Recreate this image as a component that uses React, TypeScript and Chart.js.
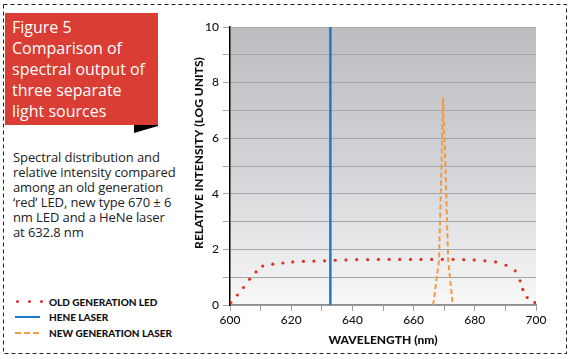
import React, { useEffect, useRef } from "react";
import { Chart, registerables } from "chart.js";

Chart.register(...registerables);

// ---- data ----
const oldLedWavelength = [600.3, 602.4, 604.4, 606.4, 608.5, 610.7, 614, 617.3, 620.5, 624, 627.4, 630.9, 634.4, 637.9, 641.4, 645, 648.5, 652, 655.5, 659, 662.4, 665.9, 669.4, 672.9, 676.4, 679.8, 683.3, 686.8, 690.2, 693.2, 694.8, 695.7, 697.1, 699.6];
const oldLedIntensity = [0.09, 0.36, 0.63, 0.93, 1.19, 1.4, 1.47, 1.51, 1.55, 1.57, 1.58, 1.59, 1.61, 1.62, 1.63, 1.63, 1.64, 1.64, 1.64, 1.64, 1.64, 1.64, 1.64, 1.64, 1.63, 1.62, 1.59, 1.55, 1.43, 1.23, 0.87, 0.56, 0.27, 0.09];
const heneWavelength = [632.8, 632.8];
const heneIntensity = [0, 10];
const newLaserWavelength = [666.4, 668.3, 669.1, 669.6, 670.4, 671.3, 672.8];
const newLaserIntensity = [0, 1.6, 5, 7.47, 5, 1.6, 0];
const xTickValues = [600, 620, 640, 660, 680, 700];
const yTickValues = [0, 2, 4, 6, 8, 10];

const seriesNames = ["OLD GENERATION LED", "HENE LASER", "NEW GENERATION LASER"];
const titleLines = ["Figure 5", "Comparison of", "spectral output of", "three separate", "light sources"];
const descLines = [
  "Spectral distribution and",
  "relative intensity compared",
  "among an old generation",
  "\u2018red\u2019 LED, new type 670 \u00b1 6",
  "nm LED and a HeNe laser",
  "at 632.8 nm",
];
const xTitle = "WAVELENGTH (nm)";
const yTitle = "RELATIVE INTENSITY (LOG UNITS)";

const RED = "#d8342c";
const BLUE = "#1b7cc5";
const ORANGE = "#f39a45";
const BOLD_FONT = "Lato, 'Liberation Sans', sans-serif";
const BODY_FONT = "'Open Sans', 'Noto Sans', sans-serif";

const zip = (xs: number[], ys: number[]) => xs.map((x, i) => ({ x, y: ys[i] }));

export default function App() {
  const ref = useRef<HTMLCanvasElement | null>(null);

  useEffect(() => {
    if (!ref.current) return;
    const bgPlugin = {
      id: "bg",
      beforeDraw(chart: any) {
        const { ctx, chartArea: a } = chart;
        const g = ctx.createLinearGradient(0, a.top, 0, a.bottom);
        g.addColorStop(0, "#bcbdc1");
        g.addColorStop(0.5, "#d2d3d6");
        g.addColorStop(1, "#f8f8f8");
        ctx.save();
        ctx.fillStyle = g;
        ctx.fillRect(a.left, a.top, a.right - a.left, a.bottom - a.top);
        ctx.restore();
      },
      afterDraw(chart: any) {
        const { ctx, chartArea: a } = chart;
        ctx.save();
        ctx.fillStyle = "#111";
        ctx.font = `900 12px ${BOLD_FONT}`;
        ctx.textAlign = "center";
        ctx.textBaseline = "middle";
        ctx.fillText(xTitle, (a.left + a.right) / 2, 340);
        ctx.translate(199, 153);
        ctx.rotate(-Math.PI / 2);
        ctx.fillText(yTitle, 0, 0);
        ctx.restore();
      },
    };

    const chart = new Chart(ref.current, {
      type: "scatter",
      data: {
        datasets: [
          {
            label: seriesNames[0],
            data: zip(oldLedWavelength, oldLedIntensity),
            showLine: false,
            pointRadius: 1.6,
            pointBackgroundColor: RED,
            pointBorderWidth: 0,
          },
          {
            label: seriesNames[1],
            data: zip(heneWavelength, heneIntensity),
            showLine: true,
            borderColor: BLUE,
            borderWidth: 2.5,
            pointRadius: 0,
          },
          {
            label: seriesNames[2],
            data: zip(newLaserWavelength, newLaserIntensity),
            showLine: true,
            borderColor: ORANGE,
            borderWidth: 2,
            borderDash: [5, 3],
            pointRadius: 0,
          },
        ],
      } as any,
      options: {
        animation: false,
        responsive: false,
        layout: { padding: { left: 188, top: 27, right: 37, bottom: 24 } },
        plugins: { legend: { display: false }, tooltip: { enabled: false } },
        scales: {
          x: {
            type: "linear",
            min: 600,
            max: 700,
            afterFit: (s: any) => { s.height = 30; },
            afterBuildTicks: (s: any) => {
              const t: any[] = [];
              for (let v = 600; v <= 700; v += 10) t.push({ value: v });
              s.ticks = t;
            },
            ticks: {
              autoSkip: false,
              maxRotation: 0,
              padding: 2,
              color: "#111",
              font: { family: BOLD_FONT, size: 12, weight: "500" as any },
              callback: (v: any) => (xTickValues.includes(Number(v)) ? String(v) : ""),
            },
            grid: { drawOnChartArea: false, drawTicks: true, tickLength: 6, color: "#9d9ea2" },
            border: { display: true, color: "#8e8f93", width: 1.5 },
          },
          y: {
            type: "linear",
            min: 0,
            max: 10,
            afterFit: (s: any) => { s.width = 42; },
            afterBuildTicks: (s: any) => {
              const t: any[] = [];
              for (let v = 0; v <= 10; v += 1) t.push({ value: v });
              s.ticks = t;
            },
            ticks: {
              autoSkip: false,
              padding: 4,
              color: "#111",
              font: { family: BOLD_FONT, size: 12, weight: "500" as any },
              callback: (v: any) => (yTickValues.includes(Number(v)) ? String(v) : ""),
            },
            grid: { drawTicks: true, tickLength: 7, color: "#a6a7ab", lineWidth: 1 },
            border: { display: true, color: "#000", width: 1.5 },
          },
        },
      } as any,
      plugins: [bgPlugin],
    });
    return () => chart.destroy();
  }, []);

  return (
    <div style={{ position: "absolute", left: 0, top: 0, width: 573, height: 359, background: "#fff", overflow: "hidden" }}>
      <svg width={573} height={359} style={{ position: "absolute", left: 0, top: 0 }}>
        <rect x={3.5} y={4.5} width={563} height={349} fill="none" stroke="#222" strokeWidth={1} strokeDasharray="4 3" />
        <polygon points="134,125 158,125 158,126 134,133" fill="#000" />
      </svg>
      <div
        style={{
          position: "absolute", left: 5, top: 13, width: 153, height: 112, background: "#d93d33",
          color: "#fff", fontFamily: BODY_FONT, fontSize: 16, lineHeight: "21px", padding: "4px 0 0 7px", boxSizing: "border-box",
        }}
      >
        {titleLines.map((l, i) => <div key={i} style={{ whiteSpace: "nowrap" }}>{l}</div>)}
      </div>
      <div
        style={{
          position: "absolute", left: 13, top: 150, color: "#222", fontFamily: BODY_FONT, fontSize: 13, lineHeight: "15px",
          letterSpacing: -0.1,
        }}
      >
        {descLines.map((l, i) => <div key={i} style={{ whiteSpace: "nowrap" }}>{l}</div>)}
      </div>
      <div style={{ position: "absolute", left: 15, top: 294, fontFamily: BOLD_FONT, fontWeight: 900, fontSize: 10, color: "#111" }}>
        {seriesNames.map((n, i) => (
          <div key={i} style={{ display: "flex", alignItems: "center", height: 15.5 }}>
            <div style={{ width: 27, height: 8, position: "relative", marginRight: 7 }}>
              {i === 0 && [2, 14, 26].map((x) => (
                <div key={x} style={{ position: "absolute", left: x - 1.5, top: 2.5, width: 3, height: 3, borderRadius: 2, background: RED }} />
              ))}
              {i === 1 && <div style={{ position: "absolute", left: 0, top: 3, width: 25, height: 2, background: BLUE }} />}
              {i === 2 && [0, 9, 18].map((x) => (
                <div key={x} style={{ position: "absolute", left: x, top: 3, width: 6, height: 2, background: ORANGE }} />
              ))}
            </div>
            <span style={{ whiteSpace: "nowrap" }}>{n}</span>
          </div>
        ))}
      </div>
      <canvas ref={ref} width={573} height={359} style={{ position: "absolute", left: 0, top: 0 }} />
    </div>
  );
}
